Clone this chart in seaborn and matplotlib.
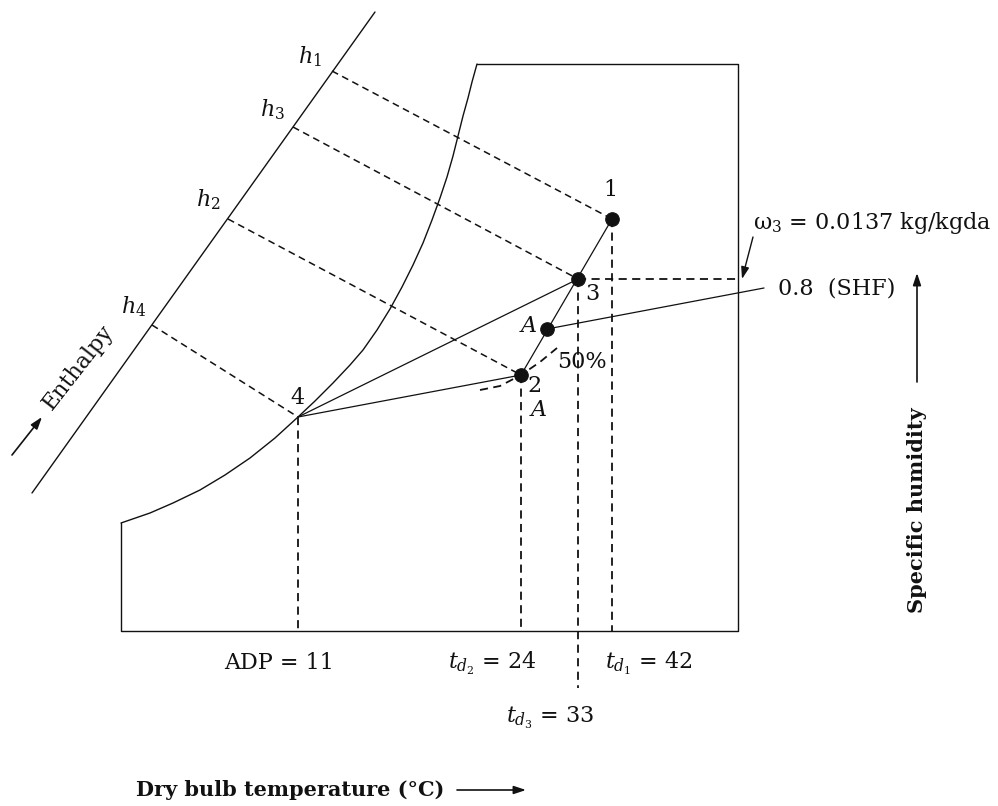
import matplotlib
matplotlib.use("Agg")
import matplotlib.pyplot as plt
import seaborn as sns

# ──────────────────────────────────────────────
# Chart data (schematic coordinates, y grows downward)
# ──────────────────────────────────────────────

# saturation curve, from the left wall up to the top edge
sat_x = [121, 150, 173, 200, 225, 250, 275, 298, 315, 333, 350, 363, 377,
         390, 402, 413, 423, 432, 440, 447, 453, 458, 463, 468, 472, 477]
sat_y = [523, 513, 503, 490, 475, 458, 438, 417, 401, 383, 365, 350, 330,
         309, 287, 265, 243, 220, 198, 177, 156, 136, 116, 98, 82, 64]

# chart frame
box_x = [121, 121, 738, 738, 477]
box_y = [523, 631, 631, 64, 64]

# enthalpy scale line
enth_x = [32, 375]
enth_y = [493, 12]

# state points
state_names = ["1", "3", "A", "2", "4"]
state_x = [612, 578, 547, 521, 298]
state_y = [219, 279, 329, 375, 417]

# enthalpy ticks on the scale line
h_names = ["h_1", "h_3", "h_2", "h_4"]
h_x = [332, 293, 228, 152]
h_y = [71, 127, 219, 325]
h_targets = ["1", "3", "2", "4"]

# 50 % RH curve through point 2
rh_x = [480, 500, 521, 540, 557]
rh_y = [390, 386, 375, 362, 348]

# bottom temperature labels
t_labels = ["ADP = 11", r"$t_{d_2}$ = 24", r"$t_{d_1}$ = 42", r"$t_{d_3}$ = 33"]

bottom_y = 631
shf_end = (764, 288)

pt = dict(zip(state_names, zip(state_x, state_y)))

sns.set_theme(style="white")
plt.rcParams["font.family"] = ["DejaVu Serif"]
plt.rcParams["mathtext.fontset"] = "dejavuserif"

fig = plt.figure(figsize=(9.98, 8.06), dpi=100)
ax = fig.add_axes([0, 0, 1, 1])
ax.set_xlim(0, 998)
ax.set_ylim(806, 0)
ax.axis("off")

K = "#111111"


def seg(xs, ys, dashed=False, lw=0.9):
    ls = (0, (4.5, 3)) if dashed else "-"
    sns.lineplot(x=xs, y=ys, sort=False, estimator=None, ax=ax,
                 color=K, lw=lw, linestyle=ls)


# frame, saturation curve, enthalpy line
seg(box_x, box_y, lw=1.0)
seg(sat_x, sat_y, lw=1.0)
seg(enth_x, enth_y, lw=1.0)

# enthalpy dashed lines
for hx, hy, tgt in zip(h_x, h_y, h_targets):
    seg([hx, pt[tgt][0]], [hy, pt[tgt][1]], dashed=True, lw=1.1)

# vertical dashed drops to the dry bulb axis
for name in ["4", "2", "1"]:
    seg([pt[name][0]] * 2, [pt[name][1], bottom_y], dashed=True, lw=1.3)
seg([pt["3"][0]] * 2, [pt["3"][1], 688], dashed=True, lw=1.3)

# omega_3 horizontal
seg([pt["3"][0], 738], [pt["3"][1]] * 2, dashed=True, lw=1.3)

# process lines
seg([pt["1"][0], pt["2"][0]], [pt["1"][1], pt["2"][1]])
seg([pt["4"][0], pt["3"][0]], [pt["4"][1], pt["3"][1]])
seg([pt["4"][0], pt["2"][0]], [pt["4"][1], pt["2"][1]])
seg([pt["A"][0], shf_end[0]], [pt["A"][1], shf_end[1]])

# 50% RH
seg(rh_x, rh_y, dashed=True, lw=1.3)

# state dots (not point 4)
sns.scatterplot(x=state_x[:4], y=state_y[:4], ax=ax, color=K, s=95,
                edgecolor=K, zorder=5)

fs = 16
txt = dict(color=K, fontsize=fs, ha="center", va="center")

# h labels
h_lab_pos = [(310, 57), (272, 110), (208, 200), (134, 307)]
for name, (lx, ly) in zip(h_names, h_lab_pos):
    ax.text(lx, ly, f"${name}$", **txt)

# point labels
ax.text(610, 190, "1", **txt)
ax.text(592, 294, "3", **txt)
ax.text(528, 326, "$A$", **txt)
ax.text(582, 362, "50%", **txt)
ax.text(535, 386, "2", **txt)
ax.text(538, 410, "$A$", **txt)
ax.text(297, 398, "4", **txt)

# bottom labels
bl_pos = [(279, 669), (492, 669), (649, 669), (550, 723)]
for lab, (lx, ly) in zip(t_labels, bl_pos):
    ax.text(lx, ly, lab, color=K, fontsize=fs, ha="center", va="baseline")

# right side labels
ax.text(753, 223, "ω$_3$ = 0.0137 kg/kgda", color=K, fontsize=fs,
        ha="left", va="center")
ax.annotate("", xy=(742, 279), xytext=(753, 237),
            arrowprops=dict(arrowstyle="-|>,head_length=0.6,head_width=0.2",
                            color=K, lw=1.0, shrinkA=0, shrinkB=0))
ax.text(778, 288, "0.8  (SHF)", color=K, fontsize=fs, ha="left", va="center")

# specific humidity axis label
ax.annotate("", xy=(917, 273), xytext=(917, 382),
            arrowprops=dict(arrowstyle="-|>,head_length=0.6,head_width=0.2",
                            color=K, lw=1.2, shrinkA=0, shrinkB=0))
ax.text(917, 510, "Specific humidity", color=K, fontsize=15,
        fontweight="bold", rotation=90, ha="center", va="center")

# dry bulb axis label
ax.text(290, 790, "Dry bulb temperature (°C)", color=K, fontsize=15,
        fontweight="bold", ha="center", va="center")
ax.annotate("", xy=(526, 790), xytext=(457, 790),
            arrowprops=dict(arrowstyle="-|>,head_length=0.6,head_width=0.2",
                            color=K, lw=1.2, shrinkA=0, shrinkB=0))

# enthalpy label
ax.text(78, 367, "Enthalpy", color=K, fontsize=16, rotation=52,
        ha="center", va="center", rotation_mode="anchor")
ax.annotate("", xy=(42, 417), xytext=(12, 455),
            arrowprops=dict(arrowstyle="-|>,head_length=0.6,head_width=0.2",
                            color=K, lw=1.2, shrinkA=0, shrinkB=0))

fig.savefig("out.png", dpi=100, facecolor="white")
